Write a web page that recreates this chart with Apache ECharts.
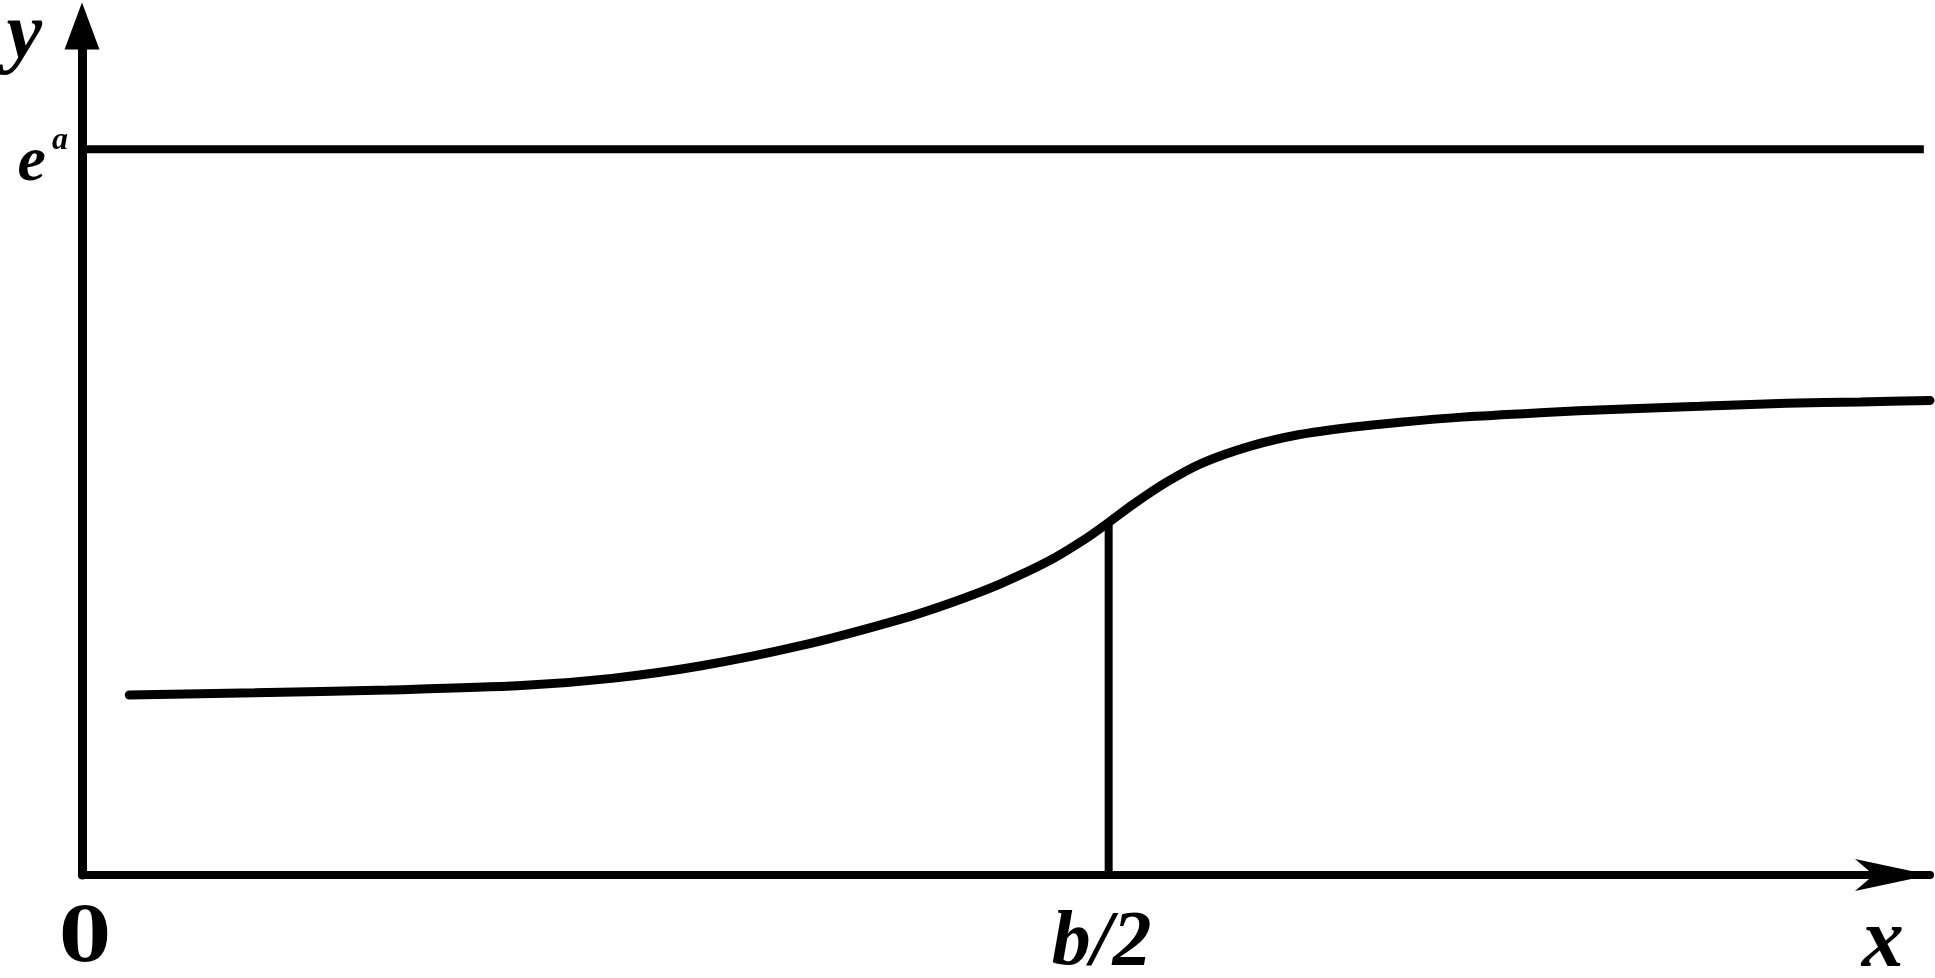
<!DOCTYPE html>
<html><head><meta charset="utf-8">
<script src="https://cdn.jsdelivr.net/npm/echarts@6/dist/echarts.min.js"></script>
<style>html,body{margin:0;padding:0;background:#fff}#c{width:1935px;height:978px}</style>
</head><body><div id="c"></div>
<script>
// curve samples (x in units where b/2 = 5, y in units where e^a = 1)
const curveX = [0.23, 0.84, 1.49, 2.14, 2.58, 3.01, 3.50, 3.98, 4.23, 4.47, 4.71, 4.88, 5.00, 5.12, 5.28, 5.45, 5.69, 5.93, 6.18, 6.42, 6.72, 7.10, 7.48, 7.88, 8.30, 8.66, 9.00];
const curveY = [0.248, 0.251, 0.255, 0.261, 0.271, 0.288, 0.316, 0.352, 0.375, 0.401, 0.433, 0.462, 0.486, 0.511, 0.541, 0.567, 0.591, 0.607, 0.617, 0.624, 0.631, 0.637, 0.642, 0.646, 0.650, 0.652, 0.654];
const asymptoteY = 1;            // e^a
const asymptoteX = [0, 8.97];
const halfB = 5;                 // b/2
const halfBY = 0.486;
const xTickValues = [0, 5, 8.77];
const xTickLabels = ['0', 'b/2', 'x'];
const yTickValues = [1];

const chart = echarts.init(document.getElementById('c'), null, {renderer: 'canvas'});
const SERIF = 'Liberation Serif';
const ink = '#000';

const curveData = curveX.map((x, i) => [x, curveY[i]]);

chart.setOption({
  backgroundColor: '#fff',
  animation: false,
  grid: {left: 82, right: 5, top: 26, bottom: 103, containLabel: false, outerBoundsMode: 'none'},
  xAxis: {
    type: 'value', min: 0, max: 9,
    axisLine: {show: true, symbol: ['none', 'arrow'], symbolSize: [24, 75],
      lineStyle: {color: ink, width: 8}},
    axisTick: {show: false},
    splitLine: {show: false},
    axisLabel: {
      customValues: xTickValues, margin: 24, showMinLabel: true, showMaxLabel: true,
      formatter: v => {
        const i = xTickValues.indexOf(v);
        const key = ['u', 'i', 'x'][i];
        return '{' + key + '|' + xTickLabels[i] + '}';
      },
      rich: {
        u: {fontFamily: 'DejaVu Serif', fontWeight: 'bold', fontSize: 74, color: ink, padding: [6, 0, 0, 6]},
        i: {fontFamily: SERIF, fontWeight: 'bold', fontStyle: 'italic', fontSize: 78, color: ink, padding: [6, 14, 0, 0]},
        x: {fontFamily: SERIF, fontWeight: 'bold', fontStyle: 'italic', fontSize: 84, color: ink, padding: [3, 0, 0, 0]}
      }
    }
  },
  yAxis: {
    type: 'value', min: 0, max: 1.17,
    name: 'y', nameLocation: 'end', nameGap: -11,
    nameTextStyle: {fontFamily: SERIF, fontStyle: 'italic', fontWeight: 'bold', fontSize: 80, color: ink,
      align: 'right', verticalAlign: 'middle', padding: [0, 40, 0, 0]},
    axisLine: {show: true, symbol: ['none', 'triangle'], symbolSize: [35, 47],
      lineStyle: {color: ink, width: 9}},
    axisTick: {show: false},
    splitLine: {show: false},
    axisLabel: {
      customValues: yTickValues, margin: 14,
      formatter: () => '{e|e}{a|a}',
      rich: {
        e: {fontFamily: SERIF, fontWeight: 'bold', fontStyle: 'italic', fontSize: 64, lineHeight: 64, color: ink, padding: [28, 0, 0, 0]},
        a: {fontFamily: SERIF, fontWeight: 'bold', fontStyle: 'italic', fontSize: 32, lineHeight: 32, color: ink, verticalAlign: 'top', padding: [7, 0, 0, 6]}
      }
    }
  },
  series: [
    {
      type: 'line', data: asymptoteX.map(x => [x, asymptoteY]), symbol: 'none',
      lineStyle: {color: ink, width: 8}
    },
    {
      type: 'line', data: curveData, symbol: 'none', smooth: 0.3,
      lineStyle: {color: ink, width: 9, cap: 'round'}
    },
    {
      type: 'line', data: [[halfB, 0], [halfB, halfBY]], symbol: 'none',
      lineStyle: {color: ink, width: 8}
    }
  ]
});
</script>
</body></html>
